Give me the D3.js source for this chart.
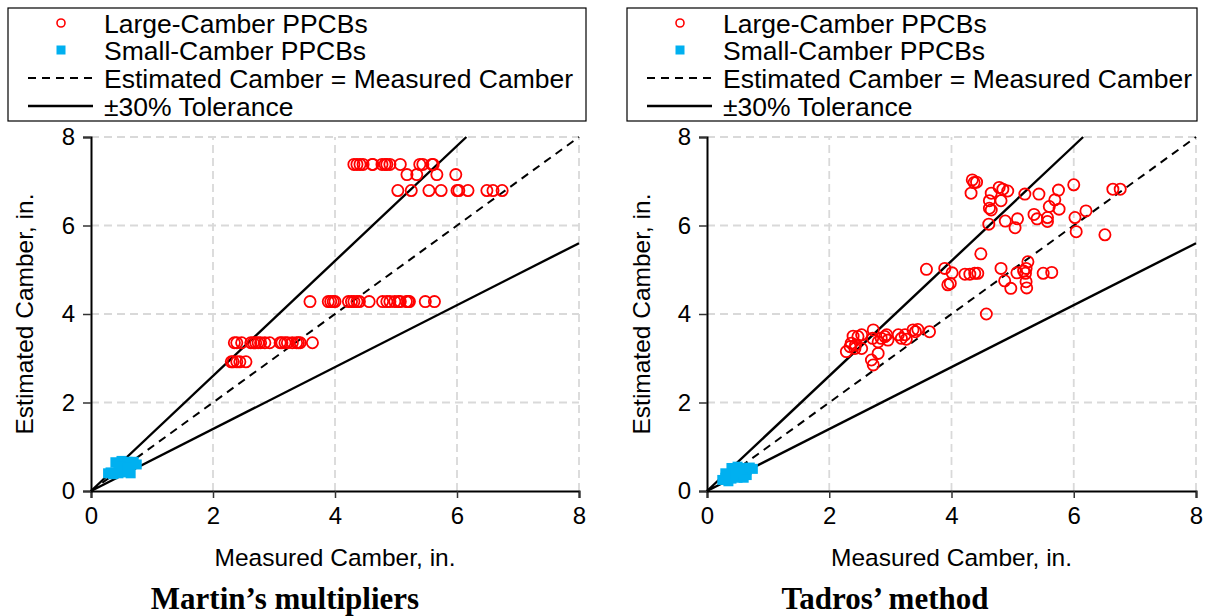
<!DOCTYPE html>
<html>
<head>
<meta charset="utf-8">
<script src="https://cdn.jsdelivr.net/npm/d3@7"></script>
<style>
  html, body { margin: 0; padding: 0; background: #fff; }
  svg { display: block; font-family: "Liberation Sans", Arial, sans-serif; }
</style>
</head>
<body>
<svg id="chart" width="1218" height="616"></svg>
<script>
// Axis ticks (inches)
const tickValues = [0, 2, 4, 6, 8];
const tickLabels = ["0", "2", "4", "6", "8"];

// Legend entries
const legendLabels = ["Large-Camber PPCBs", "Small-Camber PPCBs", "Estimated Camber = Measured Camber", "\u00b130% Tolerance"];

// Panel titles and axis titles
const panelTitles = ["Martin\u2019s multipliers", "Tadros\u2019 method"];
const xTitle = "Measured Camber, in.";
const yTitle = "Estimated Camber, in.";

// Reference lines: slope of equality line and the ±30% bounds
const equalitySlope = [1.0];
const toleranceSlopes = [1.3, 0.7];

// Martin's multipliers: [measured, estimated]
const martinLarge = [
  [4.31,7.38],[4.36,7.38],[4.41,7.38],[4.46,7.38],[4.61,7.38],[4.62,7.38],[4.77,7.38],[4.82,7.38],
  [4.85,7.38],[4.90,7.38],[5.07,7.38],[5.39,7.38],[5.44,7.38],[5.59,7.38],[5.61,7.38],
  [5.18,7.15],[5.34,7.15],[5.67,7.15],[5.98,7.15],
  [5.03,6.79],[5.25,6.79],[5.54,6.79],[5.74,6.79],[6.00,6.79],[6.03,6.79],[6.18,6.79],[6.49,6.79],[6.59,6.79],[6.74,6.79],
  [3.59,4.28],[3.89,4.28],[3.93,4.28],[3.97,4.28],[4.00,4.28],[4.22,4.28],[4.27,4.28],[4.31,4.28],
  [4.36,4.28],[4.40,4.28],[4.56,4.28],[4.78,4.28],[4.85,4.28],[4.90,4.28],[4.98,4.28],[5.04,4.28],
  [5.07,4.28],[5.17,4.28],[5.20,4.28],[5.22,4.28],[5.48,4.28],[5.63,4.28],
  [2.35,3.35],[2.39,3.35],[2.47,3.35],[2.62,3.35],[2.66,3.35],[2.70,3.35],[2.74,3.35],[2.78,3.35],
  [2.85,3.35],[2.93,3.35],[3.10,3.35],[3.13,3.35],[3.18,3.35],[3.22,3.35],[3.30,3.35],[3.37,3.35],
  [3.40,3.35],[3.43,3.35],[3.63,3.35],
  [2.30,2.92],[2.33,2.92],[2.39,2.92],[2.44,2.92],[2.54,2.92]
];
const martinSmall = [
  [0.28,0.40],[0.32,0.42],[0.36,0.38],[0.40,0.42],[0.45,0.40],[0.50,0.45],[0.55,0.42],[0.60,0.44],[0.65,0.40],
  [0.40,0.65],[0.45,0.62],[0.50,0.68],[0.55,0.64],[0.60,0.66],[0.65,0.62],[0.70,0.66],[0.75,0.60],
  [0.50,0.55],[0.60,0.52]
];

// Tadros' method: [measured, estimated]
const tadrosLarge = [
  [4.34,7.03],[4.37,6.97],[4.41,6.98],[4.32,6.73],[4.78,6.86],[4.84,6.82],[4.92,6.78],[4.65,6.73],
  [5.20,6.71],[5.43,6.71],[5.75,6.80],[6.00,6.92],[6.64,6.82],[6.76,6.82],[4.62,6.56],[4.81,6.56],
  [4.62,6.39],[4.65,6.35],[5.69,6.58],[5.60,6.43],[5.76,6.37],[5.35,6.25],[5.40,6.15],[5.57,6.18],
  [5.57,6.09],[6.20,6.33],[6.02,6.18],[6.04,5.86],[6.51,5.79],[4.61,6.03],[4.88,6.10],[5.08,6.15],
  [5.04,5.95],[4.48,5.36],[3.89,5.03],[4.01,4.93],[4.22,4.90],[4.30,4.90],[4.38,4.92],[4.43,4.92],
  [3.94,4.66],[3.98,4.69],[4.81,5.03],[4.87,4.75],[4.97,4.58],[5.07,4.93],[5.18,4.97],[5.22,5.03],
  [5.25,5.18],[5.21,4.92],[5.22,4.73],[5.23,4.59],[5.50,4.92],[5.64,4.94],[4.57,4.00],[3.59,5.01],
  [2.28,3.15],[2.34,3.26],[2.36,3.34],[2.39,3.50],[2.42,3.22],[2.47,3.49],[2.53,3.53],[2.53,3.22],
  [2.43,3.30],[2.72,3.64],[2.71,3.45],[2.80,3.37],[2.85,3.45],[2.91,3.49],[2.94,3.53],[2.96,3.41],
  [2.80,3.11],[2.69,2.96],[2.72,2.85],[3.13,3.53],[3.18,3.45],[3.24,3.53],[3.26,3.43],[3.37,3.64],
  [3.41,3.60],[3.45,3.65],[3.64,3.60]
];
const tadrosSmall = [
  [0.25,0.25],[0.30,0.30],[0.35,0.22],[0.40,0.28],[0.45,0.32],[0.50,0.30],[0.55,0.35],[0.60,0.30],[0.65,0.36],
  [0.40,0.52],[0.45,0.50],[0.50,0.55],[0.55,0.50],[0.60,0.52],[0.65,0.48],[0.70,0.53],[0.75,0.50],
  [0.30,0.40],[0.50,0.42]
];

const RED = "#ff0000";
const BLUE = "#00b0f0";
const GRID = "#d9d9d9";
const SANS = "'Liberation Sans', Arial, sans-serif";

const svg = d3.select("#chart");

function drawPanel(cfg) {
  const x = d3.scaleLinear().domain([0, 8]).range([cfg.left, cfg.right]);
  const y = d3.scaleLinear().domain([0, 8]).range([cfg.bottom, cfg.top]);
  const g = svg.append("g");

  // dashed grid
  const gridVals = tickValues.filter(v => v > 0);
  g.append("g").selectAll("line").data(gridVals).join("line")
    .attr("x1", d => x(d)).attr("x2", d => x(d))
    .attr("y1", y(0)).attr("y2", y(8))
    .attr("stroke", GRID).attr("stroke-width", 1.8).attr("stroke-dasharray", "8,5");
  g.append("g").selectAll("line").data(gridVals).join("line")
    .attr("y1", d => y(d)).attr("y2", d => y(d))
    .attr("x1", x(0)).attr("x2", x(8))
    .attr("stroke", GRID).attr("stroke-width", 1.8).attr("stroke-dasharray", "8,5");

  // axes
  const xAxis = d3.axisBottom(x).tickValues(tickValues).tickFormat((d, i) => tickLabels[i]).tickSizeOuter(0).tickSize(7).tickPadding(9);
  const yAxis = d3.axisLeft(y).tickValues(tickValues).tickFormat((d, i) => tickLabels[i]).tickSizeOuter(0).tickSize(8).tickPadding(8);
  const gx = g.append("g").attr("transform", `translate(0,${cfg.bottom})`).call(xAxis);
  const gy = g.append("g").attr("transform", `translate(${cfg.left},0)`).call(yAxis);
  [gx, gy].forEach(a => {
    a.select(".domain").attr("stroke", "#000").attr("stroke-width", 2);
    a.selectAll(".tick line").attr("stroke", "#333").attr("stroke-width", 1.5);
    a.selectAll(".tick text").attr("font-size", 24).attr("fill", "#000").attr("font-family", SANS);
  });

  // reference lines
  const eqEnd = Math.min(8, 8 / equalitySlope[0]);
  g.append("line")
    .attr("x1", x(0)).attr("y1", y(0)).attr("x2", x(eqEnd)).attr("y2", y(eqEnd * equalitySlope[0]))
    .attr("stroke", "#000").attr("stroke-width", 2).attr("stroke-dasharray", "8,6");
  toleranceSlopes.forEach(s => {
    const xe = Math.min(8, 8 / s);
    g.append("line")
      .attr("x1", x(0)).attr("y1", y(0)).attr("x2", x(xe)).attr("y2", y(xe * s))
      .attr("stroke", "#000").attr("stroke-width", 2.4);
  });

  // small-camber squares
  const sq = 10;
  g.append("g").selectAll("rect").data(cfg.small).join("rect")
    .attr("x", d => x(d[0]) - sq / 2).attr("y", d => y(d[1]) - sq / 2)
    .attr("width", sq).attr("height", sq).attr("fill", BLUE);

  // large-camber circles
  g.append("g").selectAll("circle").data(cfg.large).join("circle")
    .attr("cx", d => x(d[0])).attr("cy", d => y(d[1])).attr("r", 5.6)
    .attr("fill", "none").attr("stroke", RED).attr("stroke-width", 1.8);

  // axis titles
  g.append("text").attr("x", (cfg.left + cfg.right) / 2).attr("y", 566)
    .attr("text-anchor", "middle").attr("font-size", 24.5).text(xTitle);
  g.append("text").attr("transform", `translate(${cfg.yTitleX},${(cfg.top + cfg.bottom) / 2}) rotate(-90)`)
    .attr("text-anchor", "middle").attr("font-size", 24.5).text(yTitle);

  // panel title
  g.append("text").attr("x", cfg.titleX).attr("y", 609)
    .attr("text-anchor", "middle").attr("font-size", 31).attr("font-weight", "bold")
    .attr("font-family", "'Liberation Serif', 'Times New Roman', serif").text(cfg.title);

  // legend
  const lg = svg.append("g");
  lg.append("rect").attr("x", cfg.legend.x).attr("y", 8).attr("width", cfg.legend.w).attr("height", 113)
    .attr("fill", "#fff").attr("stroke", "#000").attr("stroke-width", 1.2);
  const rows = [23, 50, 78, 106];
  const mx = cfg.legend.x + 53, lx0 = cfg.legend.x + 20, lx1 = cfg.legend.x + 85, tx = cfg.legend.x + 96;
  lg.append("circle").attr("cx", mx).attr("cy", rows[0]).attr("r", 4)
    .attr("fill", "none").attr("stroke", RED).attr("stroke-width", 1.6);
  lg.append("rect").attr("x", mx - 4.5).attr("y", rows[1] - 4.5).attr("width", 9).attr("height", 9).attr("fill", BLUE);
  lg.append("line").attr("x1", lx0).attr("x2", lx1).attr("y1", rows[2]).attr("y2", rows[2])
    .attr("stroke", "#000").attr("stroke-width", 2).attr("stroke-dasharray", "8,6");
  lg.append("line").attr("x1", lx0).attr("x2", lx1).attr("y1", rows[3]).attr("y2", rows[3])
    .attr("stroke", "#000").attr("stroke-width", 2.4);
  lg.selectAll("text").data(legendLabels).join("text")
    .attr("x", tx).attr("y", (d, i) => rows[i]).attr("dy", "0.36em")
    .attr("font-size", 26.5).attr("textLength", null).text(d => d);
}

drawPanel({
  left: 91, right: 579, top: 137, bottom: 491,
  large: martinLarge, small: martinSmall,
  title: panelTitles[0], titleX: 285, yTitleX: 33,
  legend: { x: 8, w: 578 }
});
drawPanel({
  left: 707, right: 1196, top: 137, bottom: 491,
  large: tadrosLarge, small: tadrosSmall,
  title: panelTitles[1], titleX: 885, yTitleX: 650,
  legend: { x: 627, w: 570 }
});
</script>
</body>
</html>
